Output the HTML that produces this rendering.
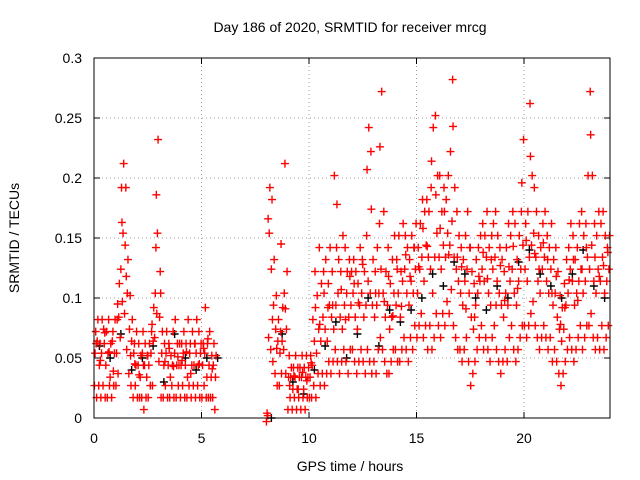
<!DOCTYPE html>
<html><head><meta charset="utf-8"><style>
body{margin:0;background:#fff}
svg{display:block;font-family:"Liberation Sans",sans-serif}
</style></head><body>
<svg id="chart" width="640" height="480" xmlns="http://www.w3.org/2000/svg">
<rect width="640" height="480" fill="#fff"/>
<text x="350" y="32" font-size="14" text-anchor="middle">Day 186 of 2020, SRMTID for receiver mrcg</text>
<text x="350" y="471" font-size="14" text-anchor="middle">GPS time / hours</text>
<text transform="translate(19,238) rotate(-90)" font-size="14" text-anchor="middle">SRMTID / TECUs</text>
<g id="grid"></g><g id="ticks"></g><g id="black"></g><g id="red"></g>
<rect x="94" y="58" width="516" height="360" fill="none" stroke="#000" stroke-width="1"/>
</svg>
<script>
const xTicks=[0,5,10,15,20];
const yTicks=[0,0.05,0.1,0.15,0.2,0.25,0.3];
const yTickLabels=["0","0.05","0.1","0.15","0.2","0.25","0.3"];
const redA=[.05,.06,.04,.05,.07,.04,.05,.03,.06,.05, .05,.08,.12,.15,.14,.10,.07,.06,.05,.04, .04,.03,.05,.04,.03,.04,.05,.06,.10,.15, .08,.05,.04,.05,.04,.03,.04,.05,.04,.04, .04,.05,.04,.03,.05,.04,.04,.05,.04,.05, .04,.05,.03,.04,.03,.04,.03,null,null,null, null,null,null,null,null,null,null,null,null,null, null,null,null,null,null,null,null,null,null,null, .00,.15,.12,.09,.07,.06,.05,.06,.10,.07, .03,.03,.02,.03,.02,.03,.03,.02,.03,.03, .03,.04,.06,.05,.07,.06,.08,.07,.06,.09, .08,.07,.09,.10,.08,.07,.09,.10,.08,.09, .10,.08,.07,.09,.10,.08,.09,.11,.10,.09, .08,.09,.10,.12,.10,.08,.09,.07,.08,.10, .09,.10,.08,.11,.12,.10,.09,.11,.10,.12, .10,.12,.13,.11,.14,.13,.12,.10,.13,.15, .13,.12,.14,.13,.15,.14,.16,.13,.12,.11, .10,.09,.11,.12,.10,.08,.07,.09,.10,.11, .12,.11,.13,.10,.09,.12,.13,.11,.10,.09, .08,.10,.09,.11,.12,.10,.09,.11,.12,.14, .12,.11,.13,.14,.15,.13,.11,.10,.12,.13, .11,.10,.12,.09,.10,.08,.07,.06,.07,.09, .10,.12,.11,.09,.10,.11,.12,.10,.11,.13, .12,.14,.11,.10,.12,.11,.13,.10,.11,.12];
const redB=[.03,.02,.03,.02,.03,.02,.02,.03,.02,.03, .03,.04,.07,.10,.09,.06,.04,.03,.02,.03, .02,.02,.02,.01,.02,.02,.03,.03,.07,.09, .05,.02,.02,.03,.02,.02,.03,.02,.02,.03, .02,.03,.02,.02,.03,.02,.03,.02,.03,.02, .02,.03,.02,.02,.02,.02,.01,null,null,null, null,null,null,null,null,null,null,null,null,null, null,null,null,null,null,null,null,null,null,null, .00,.07,.06,.05,.04,.03,.03,.04,.06,.04, .01,.02,.01,.02,.01,.02,.01,.02,.01,.02, .02,.02,.03,.02,.04,.03,.04,.03,.04,.05, .04,.05,.06,.05,.04,.05,.06,.05,.04,.06, .06,.05,.04,.05,.06,.05,.04,.06,.05,.04, .05,.04,.06,.07,.06,.05,.04,.04,.05,.06, .06,.05,.05,.06,.07,.06,.05,.07,.06,.08, .07,.08,.09,.07,.08,.06,.08,.06,.07,.09, .08,.07,.09,.08,.10,.09,.11,.08,.07,.06, .06,.05,.06,.07,.05,.03,.04,.05,.06,.07, .08,.06,.07,.06,.05,.07,.08,.06,.05,.04, .05,.06,.05,.07,.08,.06,.05,.06,.07,.08, .08,.07,.08,.09,.10,.08,.07,.06,.07,.08, .07,.06,.07,.05,.06,.05,.04,.03,.04,.05, .06,.07,.06,.05,.06,.07,.08,.06,.07,.08, .08,.09,.07,.06,.07,.06,.08,.06,.07,.08];
const redC=[.07,.08,.06,.08,.06,.07,.08,.06,.07,.08, .08,.11,.19,.21,.19,.13,.10,.08,.06,.07, .06,.05,.07,.06,.05,.06,.07,.09,.14,.23, .12,.07,.06,.07,.06,.05,.07,.08,.06,.06, .06,.07,.06,.08,.06,.07,.06,.08,.07,.06, .06,.09,.06,.07,.05,.06,.05,null,null,null, null,null,null,null,null,null,null,null,null,null, null,null,null,null,null,null,null,null,null,null, .00,.19,.18,.13,.10,.08,.07,.09,.21,.12, .05,.04,.04,.05,.04,.04,.05,.04,.05,.04, .05,.08,.12,.10,.14,.11,.12,.13,.09,.14, .12,.20,.14,.13,.12,.15,.14,.12,.13,.12, .13,.12,.11,.14,.13,.12,.15,.24,.22,.13, .12,.14,.16,.27,.17,.12,.14,.11,.13,.15, .13,.15,.12,.16,.15,.14,.13,.15,.14,.16, .14,.16,.18,.17,.18,.17,.19,.24,.25,.20, .20,.17,.19,.18,.20,.22,.28,.19,.17,.15, .14,.13,.15,.17,.14,.12,.11,.13,.14,.15, .16,.15,.17,.14,.13,.16,.17,.15,.14,.13, .12,.14,.16,.15,.17,.16,.13,.15,.17,.23, .16,.17,.26,.20,.19,.17,.15,.14,.16,.17, .15,.14,.16,.13,.14,.12,.10,.09,.11,.13, .14,.16,.15,.13,.14,.16,.17,.15,.16,.20, .27,.20,.16,.15,.17,.16,.17,.15,.14,.15];
const redD=[.062,.048,.071,.055,.039,.095,.163,.118,.052,.045,
 .036,.044,.052,.078,.186,.104,.047,.058,.043,.051,
 .048,.055,.037,.062,.045,.058,.066,.041,null,null,
 null,null,null,null,null,null,null,null,null,null,
 .166,.082,.058,.145,.091,.027,.035,.024,.038,.031,
 .046,.092,.078,.104,.112,.094,.178,.107,.082,.118,
 .112,.096,.128,.207,.174,.104,.226,.097,.118,.085,
 .124,.093,.136,.118,.142,.126,.158,.143,.214,.186,
 .158,.172,.136,.243,.134,.126,.091,.142,.084,.118,
 .138,.116,.152,.094,.127,.098,.126,.143,.108,.196,
 .148,.218,.137,.124,.146,.132,.104,.118,.078,.092,
 .115,.132,.098,.124,.142,.236,.134,.118,.127,.138];
const blackV=[.06,.05,.07,.04,.05,.06,.03,.07,.05,.04,.05,.05,null,null,null,null,.00,.07,.03,.02,.04,.06,.08,.05,.07,.10,.06,.09,.08,.09,.10,.12,.11,.13,.12,.10,.09,.11,.10,.13,.14,.12,.11,.10,.12,.14,.11,.10];
const X0=94,X1=610,Y0=418,Y1=58;
const xs=h=>X0+h/24*(X1-X0);
const ys=v=>Y0-v/0.3*(Y0-Y1);
const NS="http://www.w3.org/2000/svg";
function mk(t,a,p){const e=document.createElementNS(NS,t);for(const k in a)e.setAttribute(k,a[k]);p.appendChild(e);return e;}
const grid=document.getElementById('grid'),ticks=document.getElementById('ticks');
xTicks.forEach(t=>{const x=xs(t);
 if(t>0){const g=mk('line',{x1:x,x2:x,y1:Y1,y2:Y0,stroke:'#a0a0a0','stroke-dasharray':'1,3'},grid);
 
 }
 const l=mk('text',{x:x,y:Y0+25,'font-size':14,'text-anchor':'middle'},ticks);l.textContent=t;
 
 
 mk('line',{x1:x,x2:x,y1:Y0,y2:Y0-6,stroke:'#000'},ticks);mk('line',{x1:x,x2:x,y1:Y1,y2:Y1+6,stroke:'#000'},ticks);});
yTicks.forEach((t,i)=>{const y=ys(t);
 if(i>0&&i<yTicks.length-1){const g=mk('line',{x1:X0,x2:X1,y1:y,y2:y,stroke:'#a0a0a0','stroke-dasharray':'1,3'},grid);
 
 }
 const l=mk('text',{x:X0-12,y:y+5,'font-size':14,'text-anchor':'end'},ticks);l.textContent=yTickLabels[i];
 
 
 mk('line',{x1:X0,x2:X0+6,y1:y,y2:y,stroke:'#000'},ticks);mk('line',{x1:X1,x2:X1-6,y1:y,y2:y,stroke:'#000'},ticks);});
function plus(g,x,y,c,name){const p=mk('path',{d:`M${x-4},${y}h8M${x},${y-4}v8`,stroke:c,'stroke-width':1.4,fill:'none'},g);
 
 }
const bg=document.getElementById('black'),rg=document.getElementById('red');
blackV.forEach((v,i)=>{if(v!==null)plus(bg,xs(i*0.5+0.25),ys(v),'#000','black-point');});
const offs=[0.05,0.02,0.08];
[redA,redB,redC].forEach((arr,k)=>arr.forEach((v,i)=>{if(v!==null)plus(rg,xs(i*0.1+offs[k]),ys(v+(k===0?0.004:k===1?-0.003:0.002)),'#ff0000','red-point');}));
redD.forEach((v,i)=>{if(v!==null)plus(rg,xs(i*0.2+0.1),ys(v),'#ff0000','red-point');});
</script>
</body></html>
